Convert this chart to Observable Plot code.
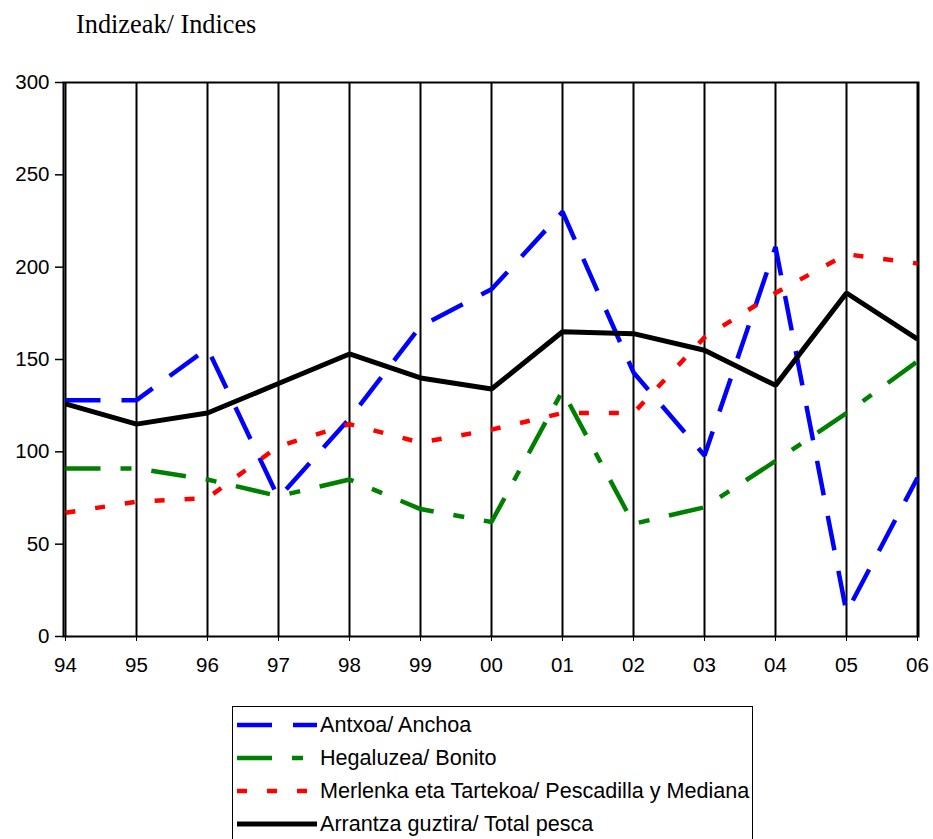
<!DOCTYPE html>
<html>
<head>
<meta charset="utf-8">
<script src="https://cdn.jsdelivr.net/npm/d3@7"></script>
<script src="https://cdn.jsdelivr.net/npm/@observablehq/plot@0.6"></script>
<style>
  html, body { margin: 0; padding: 0; background: #fff; }
  #wrap { position: relative; width: 933px; height: 839px; overflow: hidden; background: #fff; }
  #title { position: absolute; left: 76px; top: 10px; font-family: "Liberation Serif", "Times New Roman", serif; font-size: 26.3px; color: #000; white-space: nowrap; }
  #chart { position: absolute; left: 0; top: 0; }
  #legend { position: absolute; left: 232px; top: 706px; width: 521px; height: 140px; border: 1px solid #000; box-sizing: border-box; font-family: "Liberation Sans", Arial, sans-serif; font-size: 21.6px; color: #000; }
  .row { position: absolute; left: 0; height: 34px; display: flex; align-items: center; white-space: nowrap; }
  .row svg { display: block; margin-left: 4px; margin-right: 3px; }
</style>
</head>
<body>
<div id="wrap">
  <div id="title">Indizeak/ Indices</div>
  <div id="chart"></div>
  <div id="legend"></div>
</div>
<script>
const years = ["94","95","96","97","98","99","00","01","02","03","04","05","06"];
const anchoa  = [128, 128, 156, 75, 118, 168, 188, 230, 143, 98, 211, 13, 86];
const bonito  = [91, 91, 85, 76, 85, 69, 62, 133, 61, 70, 95, 121, 149];
const merluza = [67, 73, 75, 103, 115, 105, 112, 121, 121, 162, 186, 207, 202];
const total   = [126, 115, 121, 137, 153, 140, 134, 165, 164, 155, 136, 186, 161];
const yTicks  = [0, 50, 100, 150, 200, 250, 300];

const seriesNames = [
  "Antxoa/ Anchoa",
  "Hegaluzea/ Bonito",
  "Merlenka eta Tartekoa/ Pescadilla y Mediana",
  "Arrantza guztira/ Total pesca"
];
const seriesValues = [anchoa, bonito, merluza, total];
const seriesColors = ["#0000ff", "#008000", "#ff0000", "#000000"];
const seriesDash = ["35 21", "35 20 11 20", "10 20", null];
const seriesWidth = [4.5, 4.5, 4.5, 5];

const rows = [];
seriesValues.forEach((vals, i) => {
  vals.forEach((v, j) => rows.push({series: seriesNames[i], year: years[j], value: v}));
});

const lineMarks = seriesNames.map((name, i) =>
  Plot.line(rows.filter(d => d.series === name), {
    x: "year", y: "value",
    stroke: seriesColors[i],
    strokeWidth: seriesWidth[i],
    strokeDasharray: seriesDash[i] || undefined,
    strokeLinecap: "butt",
    strokeLinejoin: "miter"
  })
);

const chart = Plot.plot({
  width: 933,
  height: 700,
  marginLeft: 63,
  marginRight: 15,
  marginTop: 82,
  marginBottom: 64,
  style: { fontFamily: "'Liberation Sans', Arial, sans-serif", fontSize: "20.5px", color: "#000", background: "transparent" },
  x: { type: "point", domain: years, padding: 0, label: null },
  y: { domain: [0, 300], label: null },
  marks: [
    Plot.ruleX(years, { stroke: "#000", strokeWidth: 2 }),
    Plot.frame({ stroke: "#000", strokeWidth: 2 }),
    Plot.axisY({ ticks: yTicks, tickSize: 8, tickPadding: 6, label: null, fontSize: 20.5, strokeWidth: 1.5 }),
    Plot.axisX({ tickSize: 5, tickPadding: 16, label: null, fontSize: 20.5 }),
    ...lineMarks
  ]
});
document.getElementById("chart").appendChild(chart);

// legend
const legend = document.getElementById("legend");
const rowTops = [1, 34, 67, 100];
seriesNames.forEach((name, i) => {
  const row = document.createElement("div");
  row.className = "row";
  row.style.top = rowTops[i] + "px";
  const ns = "http://www.w3.org/2000/svg";
  const svg = document.createElementNS(ns, "svg");
  svg.setAttribute("width", 80);
  svg.setAttribute("height", 10);
  const ln = document.createElementNS(ns, "line");
  ln.setAttribute("x1", 0); ln.setAttribute("x2", 80);
  ln.setAttribute("y1", 5); ln.setAttribute("y2", 5);
  ln.setAttribute("stroke", seriesColors[i]);
  ln.setAttribute("stroke-width", seriesWidth[i]);
  if (seriesDash[i]) ln.setAttribute("stroke-dasharray", seriesDash[i]);
  svg.appendChild(ln);
  const span = document.createElement("span");
  span.textContent = name;
  row.appendChild(svg);
  row.appendChild(span);
  legend.appendChild(row);
});
</script>
</body>
</html>
